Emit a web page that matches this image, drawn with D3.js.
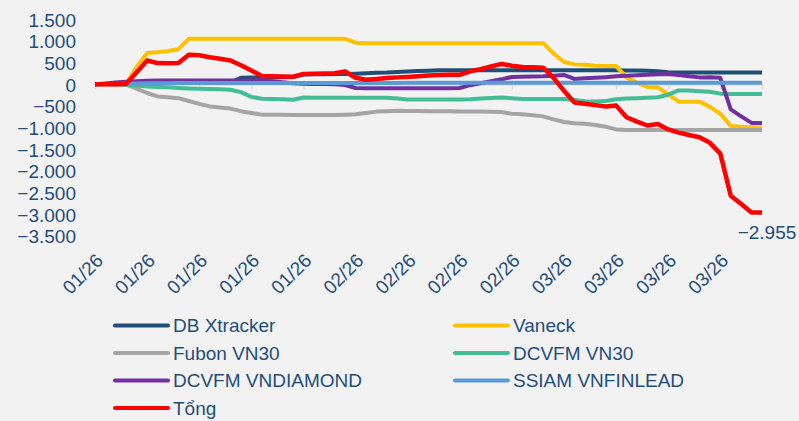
<!DOCTYPE html>
<html>
<head>
<meta charset="utf-8">
<script src="https://cdn.jsdelivr.net/npm/d3@7/dist/d3.min.js"></script>
<style>
  body { margin: 0; background: #f2f2f2; }
  svg { display: block; font-family: Arial, "Liberation Sans", sans-serif; }
  .axis text { fill: #1f4e79; font-size: 19px; }
</style>
</head>
<body>
<svg id="chart" width="799" height="421"></svg>
<script>
// month labels and how many trading days fall under each
var months = ["01/26", "02/26", "03/26"];
var monthDays = [25, 20, 20];

var yTicks = [1500, 1000, 500, 0, -500, -1000, -1500, -2000, -2500, -3000, -3500];

var dbXtracker = [0,5,10,15,20,25,25,30,30,30,
  30,30,35,40,150,160,160,160,165,170,
  225,230,230,235,240,245,255,265,270,285,
  295,305,315,325,325,325,325,325,325,325,
  325,325,325,325,325,325,325,325,325,325,
  325,320,320,315,300,280,275,275,275,275,
  275,275,275,275,275];

var vaneck = [0,0,0,20,400,720,740,770,810,1050,
  1050,1050,1050,1050,1050,1050,1050,1050,1050,1050,
  1050,1050,1050,1050,1050,960,950,950,950,950,
  950,950,950,950,950,950,950,950,950,950,
  950,950,950,950,710,515,460,450,430,420,
  420,160,40,-60,-70,-230,-400,-400,-400,-520,
  -680,-960,-980,-990,-1000];

var fubon = [0,0,0,-10,-100,-200,-280,-300,-320,-385,
  -450,-510,-535,-560,-620,-660,-700,-700,-700,-710,
  -710,-710,-710,-710,-700,-690,-660,-630,-620,-610,
  -615,-615,-620,-620,-620,-625,-625,-630,-635,-640,
  -680,-690,-715,-740,-810,-870,-900,-910,-940,-980,
  -1040,-1055,-1055,-1055,-1055,-1055,-1055,-1055,-1055,-1055,
  -1055,-1055,-1055,-1055,-1055];

var dcvfmVn30 = [0,0,0,-10,-30,-50,-60,-70,-85,-95,
  -105,-110,-115,-125,-180,-290,-335,-340,-345,-355,
  -305,-310,-310,-310,-310,-310,-310,-310,-310,-330,
  -350,-350,-350,-350,-350,-350,-345,-330,-315,-305,
  -320,-340,-340,-340,-340,-340,-360,-390,-395,-385,
  -345,-330,-320,-310,-300,-240,-140,-145,-160,-170,
  -215,-225,-225,-225,-225];

var vndiamond = [0,20,40,60,70,80,90,90,90,90,
  90,90,90,90,90,90,95,70,45,25,
  15,10,5,0,-15,-85,-90,-90,-90,-90,
  -90,-90,-90,-90,-90,-85,-20,25,70,115,
  170,175,180,185,200,215,125,140,150,165,
  185,200,210,220,230,237,214,185,160,165,
  150,-580,-740,-890,-890];

var vnfinlead = [0,5,10,15,20,25,25,25,30,30,
  30,30,30,30,30,30,30,30,30,30,
  30,30,30,30,30,30,30,30,30,30,
  35,35,35,35,35,35,35,35,35,35,
  35,35,35,35,35,35,35,35,35,35,
  35,35,35,35,35,35,35,35,35,35,
  35,35,35,35,35];

var tong = [0,0,0,10,280,550,490,485,490,680,
  670,625,590,550,440,320,190,185,180,175,
  240,245,250,255,295,150,105,125,145,160,
  170,185,205,215,220,220,300,350,410,470,
  430,400,395,385,150,-150,-420,-450,-480,-510,
  -490,-760,-860,-950,-915,-1040,-1115,-1170,-1220,-1350,
  -1600,-2570,-2760,-2955,-2955];

var series = [
  {name: "DB Xtracker", values: dbXtracker, color: "#1f4e79", width: 4},
  {name: "Vaneck", values: vaneck, color: "#ffc000", width: 4},
  {name: "Fubon VN30", values: fubon, color: "#a5a5a5", width: 4},
  {name: "DCVFM VN30", values: dcvfmVn30, color: "#43bd95", width: 4},
  {name: "DCVFM VNDIAMOND", values: vndiamond, color: "#7030a0", width: 4},
  {name: "SSIAM VNFINLEAD", values: vnfinlead, color: "#5b9bd5", width: 4},
  {name: "Tổng", values: tong, color: "#ff0000", width: 4.5}
];

var labels = [];
months.forEach(function(m, k) {
  for (var j = 0; j < monthDays[k]; j++) labels.push(m);
});

var svg = d3.select("#chart");

var x = d3.scalePoint()
    .domain(d3.range(labels.length))
    .range([95, 762]);

var y = d3.scaleLinear()
    .domain([-3500, 1500])
    .range([236, 19.3]);

var vn = d3.formatLocale({decimal: ",", thousands: ".", grouping: [3], currency: ["", ""]});
var fmt = vn.format(",d");

var labelIdx = x.domain().filter(function(i) { return i % 5 == 0; });

// y axis labels only
svg.append("g")
    .attr("class", "axis")
    .attr("transform", "translate(76,0)")
    .call(d3.axisLeft(y).tickValues(yTicks).tickFormat(fmt).tickSize(0).tickPadding(0))
    .call(function(g) { g.select(".domain").remove(); })
    .selectAll("text").attr("dy", "0.36em");

// category axis line sitting on zero
svg.append("g")
    .attr("transform", "translate(0," + y(0) + ")")
    .call(d3.axisBottom(x).tickValues(labelIdx).tickSize(5).tickFormat(""))
    .call(function(g) {
      g.select(".domain").attr("stroke", "#d9d9d9").attr("stroke-width", 1.5);
      g.selectAll(".tick line").attr("stroke", "#d9d9d9").attr("stroke-width", 1.5);
    });

// category labels at the low position
svg.append("g")
    .attr("class", "axis")
    .attr("transform", "translate(0,250)")
    .call(d3.axisBottom(x).tickValues(labelIdx).tickSize(0).tickFormat(function(i) { return labels[i]; }))
    .call(function(g) { g.select(".domain").remove(); })
    .selectAll("text")
      .attr("text-anchor", "end")
      .attr("x", 0)
      .attr("y", 0)
      .attr("dy", "0.35em")
      .attr("transform", "translate(4,7) rotate(-45)");

var line = d3.line()
    .x(function(d, i) { return x(i); })
    .y(function(d) { return y(d); });

svg.selectAll(".series")
    .data(series)
  .enter().append("path")
    .attr("class", "series")
    .attr("fill", "none")
    .attr("stroke", function(d) { return d.color; })
    .attr("stroke-width", function(d) { return d.width; })
    .attr("stroke-linejoin", "round")
    .attr("d", function(d) { return line(d.values); });

// data label on the last total point
var last = tong.length - 1;
svg.append("text")
    .attr("x", x(last) + 5)
    .attr("y", y(tong[last]) + 27)
    .attr("text-anchor", "middle")
    .attr("fill", "#1f4e79")
    .attr("font-size", "19px")
    .text(fmt(tong[last]));

// legend, two columns
var legend = svg.selectAll(".legend")
    .data(series)
  .enter().append("g")
    .attr("class", "legend")
    .attr("transform", function(d, i) {
      var col = i % 2, row = Math.floor(i / 2);
      return "translate(" + (col ? 455 : 115) + "," + (325.5 + row * 27.5) + ")";
    });

legend.append("line")
    .attr("x1", 0).attr("x2", 53)
    .attr("stroke", function(d) { return d.color; })
    .attr("stroke-width", 4)
    .attr("stroke-linecap", "round");

legend.append("text")
    .attr("x", 58)
    .attr("dy", "0.35em")
    .attr("fill", "#1f4e79")
    .attr("font-size", "19px")
    .text(function(d) { return d.name; });
</script>
</body>
</html>
